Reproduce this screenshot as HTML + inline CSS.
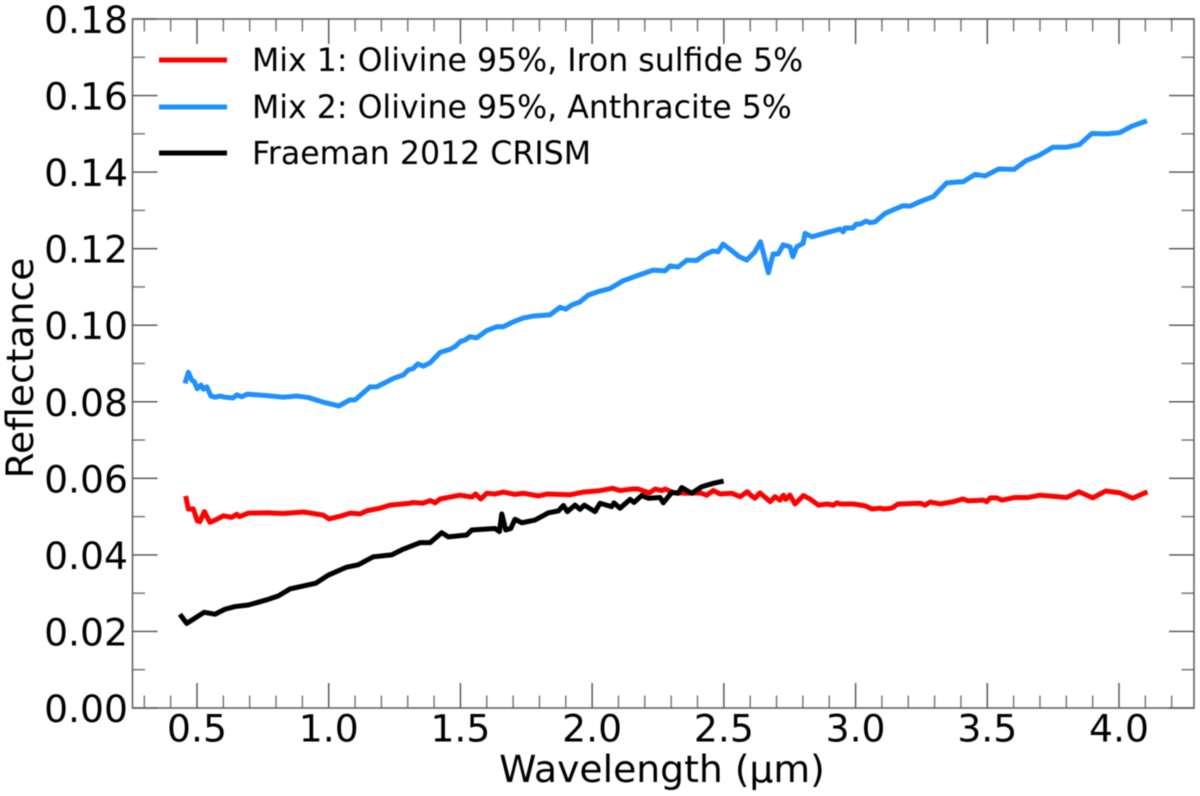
<!DOCTYPE html>
<html lang="en">
<head>
<meta charset="utf-8">
<title>Reflectance vs Wavelength</title>
<style>
html,body{margin:0;padding:0;background:#fff;}
svg{display:block;filter:blur(0.45px);}
text{font-family:"DejaVu Sans","Liberation Sans",sans-serif;fill:#000;}
</style>
</head>
<body>
<svg id="chart" xmlns="http://www.w3.org/2000/svg" width="1200" height="796" viewBox="0 0 1200 796">
  <rect x="0" y="0" width="1200" height="796" fill="#ffffff"/>
  <g id="ticks"></g>
  <g id="series"></g>
  <rect id="frame" x="132.5" y="19" width="1061.5" height="689" fill="none" stroke="#5a5a5a" stroke-width="1.5"/>
  <g id="labels"></g>
  <text x="662" y="782" font-size="37.7" text-anchor="middle">Wavelength (µm)</text>
  <text transform="translate(33,368) rotate(-90)" font-size="37.7" text-anchor="middle">Reflectance</text>
  <g>
    <g>
      <line x1="159" x2="227" y1="60" y2="60" stroke="#ff0000" stroke-width="5"/>
      <text x="252" y="71" font-size="31.6">Mix 1: Olivine 95%, Iron sulfide 5%</text>
    </g>
    <g>
      <line x1="159" x2="227" y1="107" y2="107" stroke="#1e90ff" stroke-width="5"/>
      <text x="252" y="118" font-size="31.6">Mix 2: Olivine 95%, Anthracite 5%</text>
    </g>
    <g>
      <line x1="159" x2="227" y1="153" y2="153" stroke="#000000" stroke-width="5"/>
      <text x="252" y="164" font-size="31.6">Fraeman 2012 CRISM</text>
    </g>
  </g>
</svg>
<script>
var xMajorTicks = ['0.5','1.0','1.5','2.0','2.5','3.0','3.5','4.0'];
var yMajorTicks = ['0.00','0.02','0.04','0.06','0.08','0.10','0.12','0.14','0.16','0.18'];
var xMinorTicks = [0.3,0.4,0.6,0.7,0.8,0.9,1.1,1.2,1.3,1.4,1.6,1.7,1.8,1.9,2.1,2.2,2.3,2.4,2.6,2.7,2.8,2.9,3.1,3.2,3.3,3.4,3.6,3.7,3.8,3.9,4.1,4.2];
var yMinorTicks = [0.01,0.03,0.05,0.07,0.09,0.11,0.13,0.15,0.17];

var mix2Wavelength = [0.4545,0.467,0.480,0.490,0.501,0.515,0.524,0.537,0.553,0.568,0.587,0.606,0.637,0.651,0.670,0.691,0.765,0.828,0.879,0.923,0.979,1.039,1.081,1.100,1.157,1.182,1.220,1.245,1.283,1.302,1.321,1.338,1.359,1.385,1.423,1.460,1.479,1.501,1.517,1.536,1.562,1.600,1.638,1.663,1.701,1.739,1.777,1.840,1.878,1.900,1.923,1.954,1.986,2.024,2.068,2.117,2.169,2.231,2.277,2.296,2.326,2.359,2.397,2.429,2.459,2.478,2.497,2.535,2.554,2.587,2.618,2.639,2.669,2.687,2.706,2.725,2.751,2.762,2.777,2.801,2.808,2.834,2.891,2.941,2.953,2.960,2.990,3.002,3.017,3.040,3.055,3.074,3.112,3.131,3.179,3.207,3.245,3.295,3.346,3.409,3.454,3.492,3.542,3.602,3.647,3.700,3.749,3.802,3.850,3.897,3.954,4.002,4.049,4.106];
var mix2Reflectance = [0.0848,0.0877,0.0857,0.0852,0.0834,0.0844,0.0833,0.0839,0.0815,0.0812,0.0815,0.0812,0.0810,0.0818,0.0813,0.0820,0.0816,0.0812,0.0815,0.0811,0.0799,0.0789,0.0805,0.0805,0.0839,0.0839,0.0852,0.0861,0.0870,0.0883,0.0887,0.0899,0.0893,0.0902,0.0929,0.0937,0.0944,0.0958,0.0961,0.0970,0.0967,0.0986,0.0996,0.0996,0.1009,0.1019,0.1024,0.1027,0.1047,0.1042,0.1053,0.1061,0.1079,0.1088,0.1096,0.1116,0.1129,0.1144,0.1142,0.1155,0.1152,0.1170,0.1169,0.1185,0.1194,0.1192,0.1212,0.1192,0.1181,0.1170,0.1192,0.1218,0.1137,0.1186,0.1186,0.1210,0.1205,0.1179,0.1205,0.1214,0.1240,0.1231,0.1242,0.1251,0.1244,0.1254,0.1254,0.1264,0.1264,0.1272,0.1268,0.1270,0.1292,0.1298,0.1312,0.1311,0.1323,0.1336,0.1372,0.1375,0.1394,0.1390,0.1408,0.1407,0.1430,0.1445,0.1465,0.1465,0.1472,0.1501,0.1500,0.1503,0.1520,0.1534];

var mix1Wavelength = [0.457,0.467,0.486,0.501,0.511,0.528,0.549,0.575,0.600,0.632,0.651,0.661,0.695,0.765,0.828,0.904,0.979,1.001,1.049,1.081,1.119,1.144,1.195,1.233,1.309,1.320,1.358,1.385,1.404,1.423,1.453,1.498,1.543,1.558,1.577,1.600,1.631,1.663,1.707,1.739,1.796,1.828,1.916,1.967,2.030,2.078,2.106,2.150,2.175,2.217,2.239,2.264,2.277,2.308,2.359,2.410,2.435,2.460,2.486,2.530,2.562,2.589,2.602,2.618,2.637,2.676,2.694,2.713,2.726,2.735,2.751,2.770,2.802,2.827,2.859,2.891,2.916,2.929,2.941,2.992,3.036,3.062,3.093,3.106,3.137,3.162,3.245,3.264,3.283,3.321,3.371,3.407,3.428,3.485,3.498,3.511,3.536,3.555,3.605,3.656,3.700,3.802,3.848,3.900,3.950,4.004,4.052,4.108];
var mix1Reflectance = [0.0554,0.0520,0.0520,0.0489,0.0487,0.0513,0.0485,0.0493,0.0502,0.0498,0.0506,0.0500,0.0509,0.0510,0.0508,0.0512,0.0504,0.0494,0.0502,0.0509,0.0507,0.0515,0.0522,0.0530,0.0535,0.0537,0.0535,0.0542,0.0536,0.0546,0.0550,0.0556,0.0551,0.0559,0.0546,0.0561,0.0559,0.0564,0.0558,0.0561,0.0554,0.0559,0.0557,0.0564,0.0568,0.0574,0.0568,0.0572,0.0572,0.0562,0.0572,0.0568,0.0572,0.0563,0.0561,0.0562,0.0556,0.0568,0.0559,0.0561,0.0552,0.0565,0.0556,0.0548,0.0562,0.0539,0.0552,0.0543,0.0556,0.0545,0.0556,0.0533,0.0555,0.0546,0.0530,0.0533,0.0530,0.0536,0.0533,0.0533,0.0528,0.0520,0.0522,0.0520,0.0522,0.0533,0.0535,0.0530,0.0538,0.0533,0.0539,0.0546,0.0541,0.0543,0.0539,0.0549,0.0549,0.0543,0.0550,0.0550,0.0556,0.0550,0.0565,0.0549,0.0567,0.0562,0.0548,0.0565];

var crismWavelength = [0.435,0.461,0.527,0.568,0.606,0.644,0.695,0.771,0.809,0.853,0.904,0.951,0.998,1.068,1.112,1.169,1.239,1.283,1.347,1.385,1.429,1.454,1.524,1.543,1.631,1.648,1.657,1.672,1.691,1.707,1.733,1.783,1.834,1.872,1.891,1.906,1.935,1.954,1.970,2.011,2.030,2.074,2.083,2.106,2.144,2.159,2.188,2.213,2.258,2.270,2.302,2.327,2.340,2.378,2.416,2.460,2.499];
var crismReflectance = [0.0245,0.0221,0.0250,0.0245,0.0258,0.0265,0.0269,0.0284,0.0293,0.0311,0.0319,0.0326,0.0347,0.0368,0.0374,0.0395,0.0400,0.0415,0.0432,0.0432,0.0458,0.0447,0.0452,0.0465,0.0469,0.0461,0.0507,0.0465,0.0469,0.0493,0.0484,0.0491,0.0510,0.0515,0.0529,0.0513,0.0530,0.0519,0.0530,0.0513,0.0535,0.0526,0.0536,0.0522,0.0545,0.0537,0.0555,0.0548,0.0550,0.0536,0.0563,0.0561,0.0576,0.0561,0.0578,0.0587,0.0593];

var SVG_NS = 'http://www.w3.org/2000/svg';
var plotLeft = 132.5, plotRight = 1194, plotTop = 19, plotBottom = 708;

function xScale(v) { return 197 + (v - 0.5) * 263.43; }
function yScale(v) { return plotBottom + (v - 0) * (plotTop - plotBottom) / 0.18; }

function svgEl(tag, attrs) {
  var el = document.createElementNS(SVG_NS, tag);
  for (var k in attrs) { el.setAttribute(k, attrs[k]); }
  return el;
}

var ticksGroup = document.getElementById('ticks');
var labelsGroup = document.getElementById('labels');
var seriesGroup = document.getElementById('series');

function drawXTick(v, len, color) {
  var px = xScale(v);
  var bottomTick = svgEl('line', {x1: px, x2: px, y1: plotBottom, y2: plotBottom - len, stroke: color, 'stroke-width': 1.4});
  
  
  ticksGroup.appendChild(bottomTick);
  var topTick = svgEl('line', {x1: px, x2: px, y1: plotTop, y2: plotTop + len, stroke: color, 'stroke-width': 1.4});
  
  
  ticksGroup.appendChild(topTick);
}

function drawYTick(v, len, color) {
  var py = yScale(v);
  var leftTick = svgEl('line', {x1: plotLeft, x2: plotLeft + len, y1: py, y2: py, stroke: color, 'stroke-width': 1.4});
  
  
  ticksGroup.appendChild(leftTick);
  var rightTick = svgEl('line', {x1: plotRight, x2: plotRight - len, y1: py, y2: py, stroke: color, 'stroke-width': 1.4});
  
  
  ticksGroup.appendChild(rightTick);
}

xMinorTicks.forEach(function (v) { drawXTick(v, 12.5, '#707070'); });
yMinorTicks.forEach(function (v) { drawYTick(v, 12.5, '#707070'); });

xMajorTicks.forEach(function (label) {
  var v = parseFloat(label);
  drawXTick(v, 25, '#505050');
  var t = svgEl('text', {x: xScale(v), y: 741.5, 'font-size': 37.7, 'text-anchor': 'middle'});
  
  
  t.textContent = label;
  labelsGroup.appendChild(t);
});

yMajorTicks.forEach(function (label) {
  var v = parseFloat(label);
  drawYTick(v, 25, '#505050');
  var t = svgEl('text', {x: 128, y: yScale(v) + 14, 'font-size': 37.7, 'text-anchor': 'end'});
  
  
  t.textContent = label;
  labelsGroup.appendChild(t);
});

function pathFor(xs, ys) {
  return xs.map(function (x, i) {
    return (i ? 'L' : 'M') + xScale(x).toFixed(2) + ' ' + yScale(ys[i]).toFixed(2);
  }).join(' ');
}

function seriesAttrs(xs, ys, color) {
  return {d: pathFor(xs, ys), fill: 'none', stroke: color, 'stroke-width': 5, 'stroke-linejoin': 'round'};
}

var mix1Line = svgEl('path', seriesAttrs(mix1Wavelength, mix1Reflectance, '#ff0000'));


seriesGroup.appendChild(mix1Line);

var mix2Line = svgEl('path', seriesAttrs(mix2Wavelength, mix2Reflectance, '#1e90ff'));


seriesGroup.appendChild(mix2Line);

var crismLine = svgEl('path', seriesAttrs(crismWavelength, crismReflectance, '#000000'));


seriesGroup.appendChild(crismLine);
</script>
</body>
</html>
